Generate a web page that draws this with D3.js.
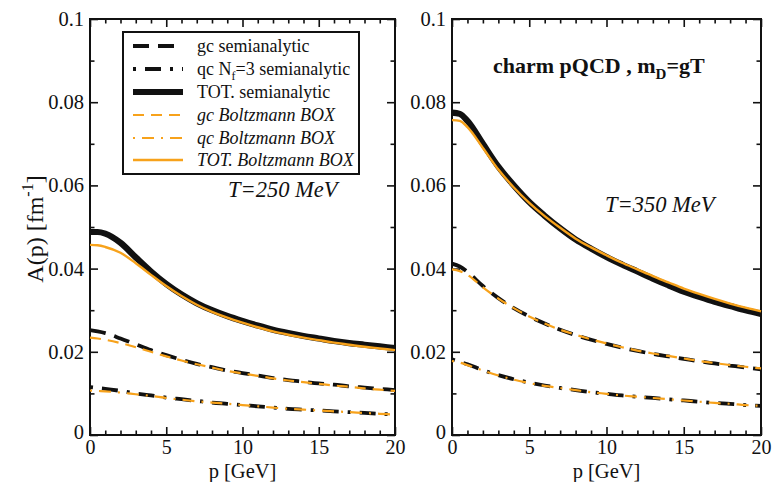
<!DOCTYPE html>
<html><head><meta charset="utf-8">
<script src="https://cdn.jsdelivr.net/npm/d3@7/dist/d3.min.js"></script>
<style>body{margin:0;background:#fff}svg{display:block}</style>
</head><body>
<svg id="c" width="773" height="482"></svg>
<script>
// ---------------- data ----------------
const pGrid = [0,0.5,1,2,3,4,5,6,7,8,9,10,11,12,13,14,15,16,17,18,19,20];

// T = 250 MeV (left panel)
const L_totSemi = [0.0488,0.0488,0.0484,0.0462,0.0427,0.0393,0.0363,0.0338,0.0317,0.0300,0.0286,0.0274,0.0263,0.0253,0.0245,0.0238,0.0232,0.0226,0.0221,0.0217,0.0213,0.0209];
const L_totBox  = [0.0457,0.0456,0.0452,0.0438,0.0413,0.0385,0.0358,0.0334,0.0313,0.0296,0.0282,0.0270,0.0259,0.0249,0.0241,0.0234,0.0228,0.0222,0.0217,0.0212,0.0208,0.0204];
const L_gcSemi  = [0.0252,0.0249,0.0245,0.0232,0.0218,0.0204,0.0192,0.0181,0.0171,0.0163,0.0155,0.0149,0.0143,0.0137,0.0132,0.0128,0.0124,0.0121,0.0117,0.0114,0.0111,0.0108];
const L_gcBox   = [0.0234,0.0232,0.0229,0.0221,0.0211,0.0200,0.0189,0.0179,0.0170,0.0162,0.0154,0.0148,0.0142,0.0136,0.0131,0.0127,0.0123,0.0119,0.0116,0.0112,0.0109,0.0106];
const L_qcSemi  = [0.0115,0.0113,0.0111,0.0106,0.0100,0.0095,0.0090,0.0086,0.0082,0.0078,0.0075,0.0072,0.0069,0.0066,0.0063,0.0061,0.0059,0.0057,0.0055,0.0053,0.0051,0.0049];
const L_qcBox   = [0.0107,0.0106,0.0105,0.0102,0.0098,0.0094,0.0089,0.0085,0.0081,0.0078,0.0075,0.0072,0.0069,0.0066,0.0063,0.0061,0.0059,0.0057,0.0055,0.0053,0.0051,0.0049];

// T = 350 MeV (right panel)
const R_totSemi = [0.0775,0.0772,0.0755,0.0700,0.0645,0.0600,0.0560,0.0527,0.0497,0.0470,0.0448,0.0428,0.0410,0.0393,0.0376,0.0360,0.0345,0.0332,0.0320,0.0310,0.0300,0.0291];
const R_totBox  = [0.0757,0.0755,0.0740,0.0690,0.0638,0.0595,0.0558,0.0526,0.0498,0.0472,0.0451,0.0432,0.0414,0.0398,0.0382,0.0367,0.0352,0.0339,0.0327,0.0316,0.0306,0.0297];
const R_gcSemi  = [0.0412,0.0405,0.0392,0.0358,0.0329,0.0305,0.0285,0.0268,0.0253,0.0240,0.0229,0.0219,0.0210,0.0202,0.0195,0.0189,0.0183,0.0177,0.0172,0.0167,0.0162,0.0158];
const R_gcBox   = [0.0398,0.0394,0.0385,0.0355,0.0328,0.0305,0.0285,0.0268,0.0253,0.0241,0.0230,0.0220,0.0211,0.0203,0.0196,0.0190,0.0184,0.0178,0.0173,0.0168,0.0164,0.0160];
const R_qcSemi  = [0.0182,0.0176,0.0170,0.0156,0.0144,0.0134,0.0126,0.0119,0.0113,0.0108,0.0103,0.0099,0.0095,0.0092,0.0089,0.0086,0.0083,0.0080,0.0077,0.0075,0.0072,0.0070];
const R_qcBox   = [0.0178,0.0174,0.0168,0.0155,0.0143,0.0133,0.0125,0.0118,0.0113,0.0108,0.0103,0.0099,0.0095,0.0092,0.0089,0.0086,0.0083,0.0080,0.0077,0.0075,0.0072,0.0070];

const xTicks = [0,5,10,15,20];
const xTickLabels = ["0","5","10","15","20"];
const xMinor = [1,2,3,4,6,7,8,9,11,12,13,14,16,17,18,19];
const yTicks = [0,0.02,0.04,0.06,0.08,0.1];
const yTickLabels = ["0","0.02","0.04","0.06","0.08","0.1"];
const yMinor = [0.01,0.03,0.05,0.07,0.09];

const seriesNames = ["gc semianalytic","qc N_f=3 semianalytic","TOT. semianalytic","gc Boltzmann BOX","qc Boltzmann BOX","TOT. Boltzmann BOX"];

// ---------------- styles ----------------
const ORANGE = "#f7a21b";
const styles = {
  gcSemi:  {color:"#111", width:3.8, dash:"16,9"},
  qcSemi:  {color:"#111", width:3.8, dash:"3,9,16,9"},
  totSemi: {color:"#111", width:6.2, dash:null},
  gcBox:   {color:ORANGE, width:2.2, dash:"11,7"},
  qcBox:   {color:ORANGE, width:2.2, dash:"2,7,12,7"},
  totBox:  {color:ORANGE, width:2.4, dash:null}
};

const svg = d3.select("#c");
const serif = "'Liberation Serif','DejaVu Serif',serif";

const yTop = 19, yBot = 435;
const panels = [
  {x0:90, x1:395, data:{totSemi:L_totSemi,gcSemi:L_gcSemi,qcSemi:L_qcSemi,totBox:L_totBox,gcBox:L_gcBox,qcBox:L_qcBox}},
  {x0:452, x1:761, data:{totSemi:R_totSemi,gcSemi:R_gcSemi,qcSemi:R_qcSemi,totBox:R_totBox,gcBox:R_gcBox,qcBox:R_qcBox}}
];

panels.forEach((P,i)=>{
  const x = d3.scaleLinear().domain([0,20]).range([P.x0,P.x1]);
  const y = d3.scaleLinear().domain([0,0.1]).range([yBot,yTop]);
  const g = svg.append("g");

  const mk = (sel)=>sel.selectAll(".domain").remove();
  // minor ticks (all four sides, inward)
  g.append("g").attr("transform",`translate(0,${yBot})`).call(d3.axisBottom(x).tickValues(xMinor).tickSize(-4.5).tickFormat("")).call(mk);
  g.append("g").attr("transform",`translate(0,${yTop})`).call(d3.axisTop(x).tickValues(xMinor).tickSize(-4.5).tickFormat("")).call(mk);
  g.append("g").attr("transform",`translate(${P.x0},0)`).call(d3.axisLeft(y).tickValues(yMinor).tickSize(-4.5).tickFormat("")).call(mk);
  g.append("g").attr("transform",`translate(${P.x1},0)`).call(d3.axisRight(y).tickValues(yMinor).tickSize(-4.5).tickFormat("")).call(mk);
  // major ticks
  const bx = g.append("g").attr("transform",`translate(0,${yBot})`)
    .call(d3.axisBottom(x).tickValues(xTicks).tickSize(-8).tickPadding(5).tickFormat((d,k)=>xTickLabels[k])).call(mk);
  g.append("g").attr("transform",`translate(0,${yTop})`).call(d3.axisTop(x).tickValues(xTicks).tickSize(-8).tickFormat("")).call(mk);
  const ly = g.append("g").attr("transform",`translate(${P.x0},0)`)
    .call(d3.axisLeft(y).tickValues(yTicks).tickSize(-8).tickPadding(6).tickFormat((d,k)=>yTickLabels[k])).call(mk);
  g.append("g").attr("transform",`translate(${P.x1},0)`).call(d3.axisRight(y).tickValues(yTicks).tickSize(-8).tickFormat("")).call(mk);
  g.selectAll(".tick line").attr("stroke","#111").attr("stroke-width",1.6);
  g.selectAll("text").attr("font-family",serif).attr("font-size",20.5).attr("fill","#111");
  bx.selectAll(".tick text").attr("font-size",20);
  ly.selectAll(".tick text").attr("dy",(d)=> d===0 ? "0.15em" : "0.32em");

  // frame
  g.append("rect").attr("x",P.x0).attr("y",yTop).attr("width",P.x1-P.x0).attr("height",yBot-yTop)
    .attr("fill","none").attr("stroke","#111").attr("stroke-width",2);

  // axis title
  g.append("text").attr("x",(P.x0+P.x1)/2).attr("y",477.5).attr("text-anchor","middle")
    .attr("font-family",serif).attr("font-size",20.5).attr("fill","#111").text("p [GeV]");

  // curves
  const line = (vals)=> d3.line().curve(d3.curveMonotoneX).x((d,k)=>x(pGrid[k])).y(d=>y(d))(vals);
  ["gcSemi","qcSemi","totSemi","gcBox","qcBox","totBox"].forEach(key=>{
    const s = styles[key];
    g.append("path").attr("d",line(P.data[key])).attr("fill","none")
      .attr("stroke",s.color).attr("stroke-width",s.width)
      .attr("stroke-dasharray",s.dash).attr("stroke-linejoin","round");
  });
});

// y-axis title
const yt = svg.append("text").attr("transform","translate(43,229) rotate(-90)").attr("text-anchor","middle")
  .attr("font-family",serif).attr("font-size",24).attr("fill","#111");
yt.append("tspan").text("A(p) [fm");
yt.append("tspan").attr("font-size",16).attr("dy",-10).text("-1");
yt.append("tspan").attr("dy",10).text("]");

// annotations
svg.append("text").attr("x",228).attr("y",197).attr("font-family",serif).attr("font-style","italic")
  .attr("font-size",22.5).attr("fill","#111").text("T=250 MeV");
svg.append("text").attr("x",605).attr("y",212).attr("font-family",serif).attr("font-style","italic")
  .attr("font-size",22.5).attr("fill","#111").text("T=350 MeV");
const ct = svg.append("text").attr("x",493).attr("y",73).attr("font-family",serif).attr("font-weight","bold")
  .attr("font-size",22).attr("fill","#111");
ct.append("tspan").text("charm pQCD , m");
ct.append("tspan").attr("font-size",15).attr("dy",6).text("D");
ct.append("tspan").attr("dy",-6).text("=gT");

// legend
const lg = svg.append("g");
lg.append("rect").attr("x",123).attr("y",32).attr("width",236).attr("height",142)
  .attr("fill","#fff").attr("stroke","#111").attr("stroke-width",2);
const legendKeys = ["gcSemi","qcSemi","totSemi","gcBox","qcBox","totBox"];
const rowY = [46,69,92,115,138,160];
legendKeys.forEach((key,k)=>{
  const s = styles[key];
  lg.append("line").attr("x1",133).attr("x2",183).attr("y1",rowY[k]).attr("y2",rowY[k])
    .attr("stroke",s.color).attr("stroke-width",s.width).attr("stroke-dasharray",s.dash);
  const t = lg.append("text").attr("x",197).attr("y",rowY[k]+6).attr("font-family",serif)
    .attr("font-size",18).attr("fill","#111").attr("font-style",k>=3?"italic":"normal");
  const name = seriesNames[k];
  if (name.includes("N_f")) {
    const [a,b] = name.split("N_f");
    t.append("tspan").text(a+"N");
    t.append("tspan").attr("font-size",12).attr("dy",5).text("f");
    t.append("tspan").attr("dy",-5).text(b);
  } else t.text(name);
});
</script>
</body></html>
